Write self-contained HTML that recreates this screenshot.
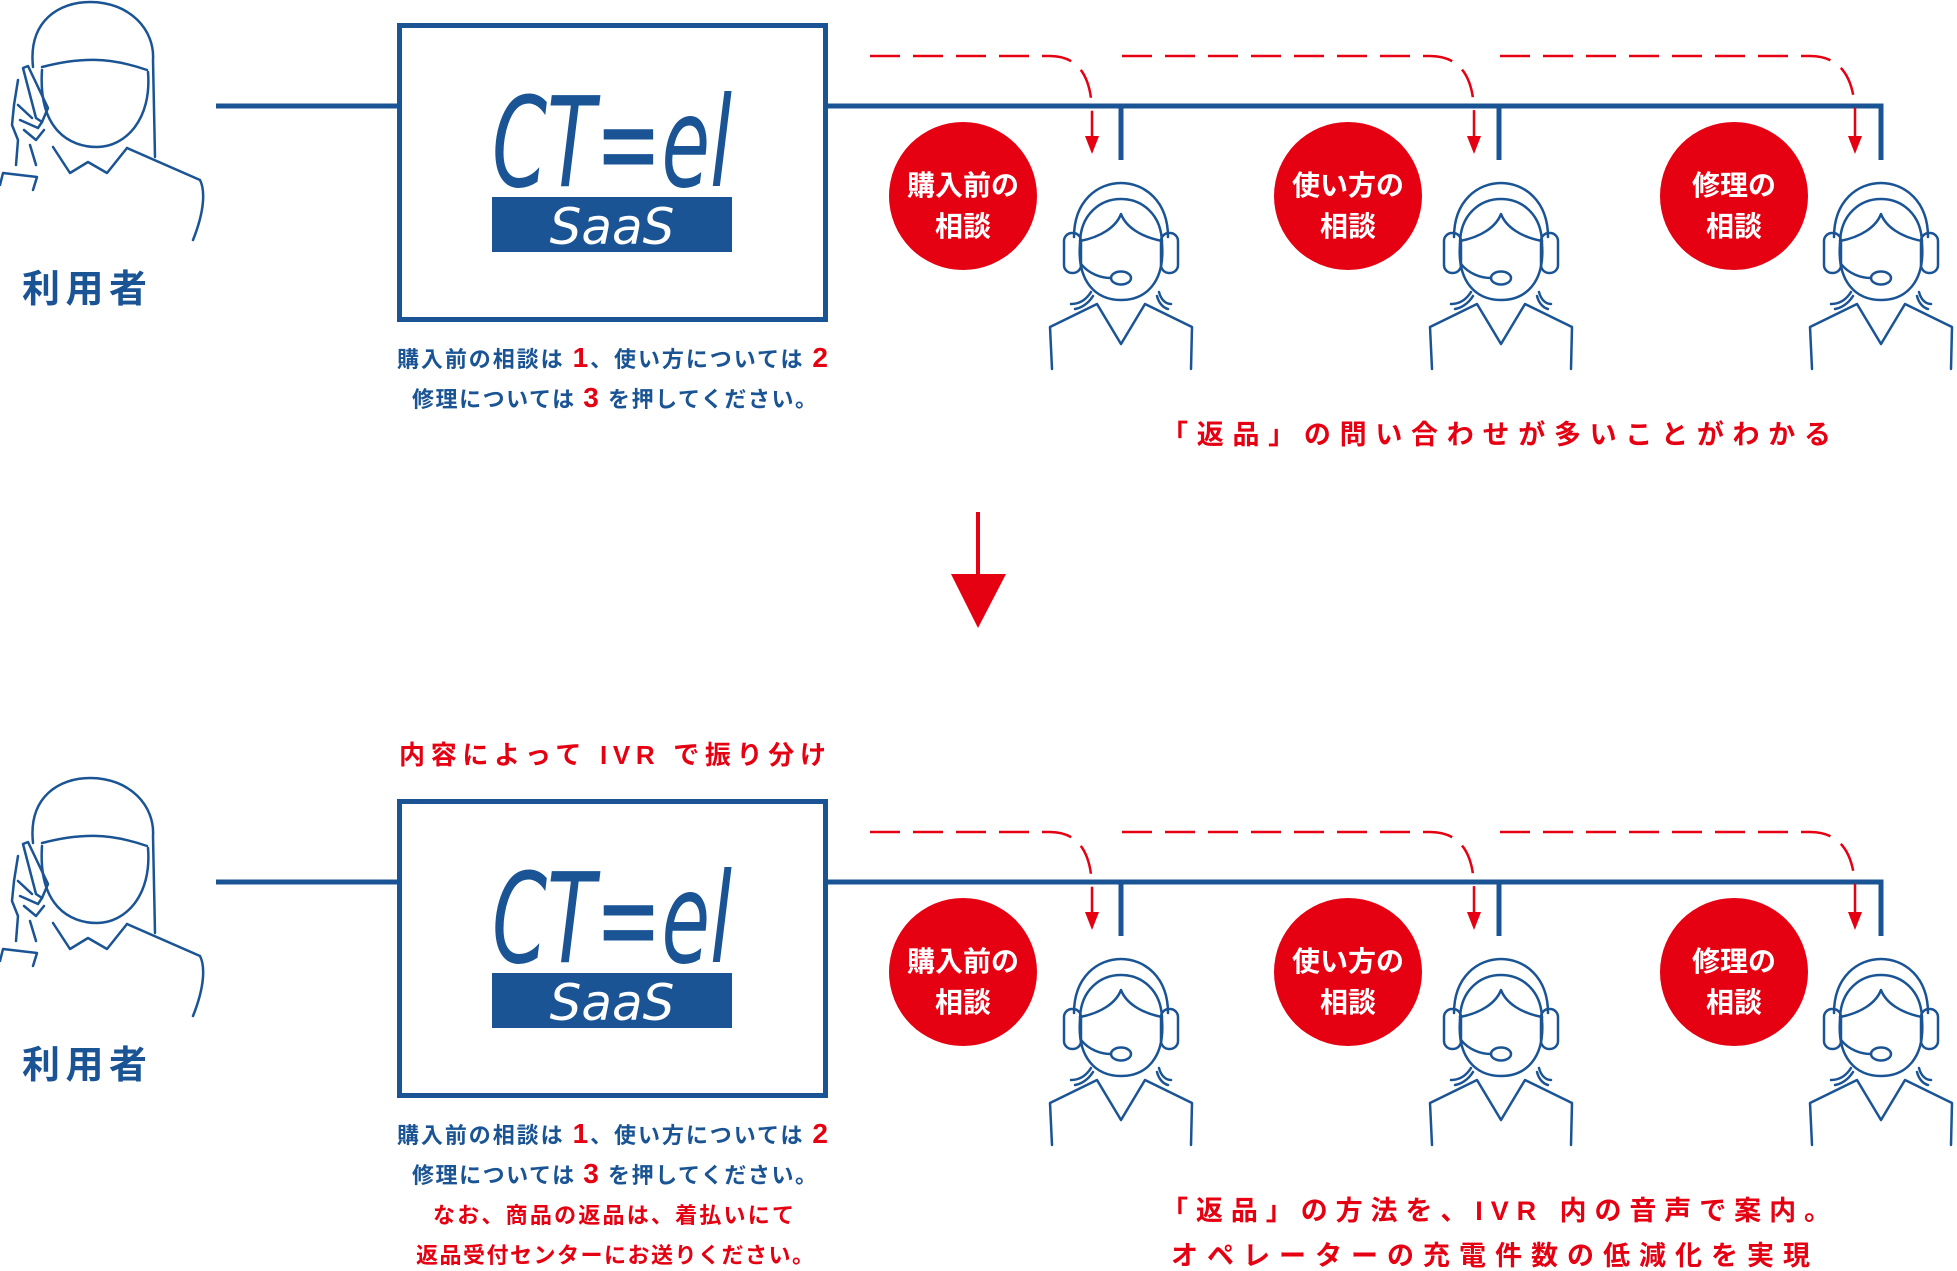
<!DOCTYPE html>
<html><head><meta charset="utf-8"><style>
html,body{margin:0;padding:0;background:#fff;}
svg{display:block;}
.jp{font-family:"Liberation Sans","Noto Sans CJK JP",sans-serif;font-weight:700;}
.lg{font-family:"DejaVu Sans ExtraLight","DejaVu Sans","Liberation Sans",sans-serif;font-weight:200;}
</style></head><body>
<svg width="1957" height="1271" viewBox="0 0 1957 1271" xmlns="http://www.w3.org/2000/svg">
<defs>
<g id="op" fill="none" stroke="#1a5494" stroke-width="2.5" stroke-linecap="round" stroke-linejoin="round">
  <path d="M-47,55 C-47,-17 47,-17 47,55"/>
  <path d="M-41,62 C-41,2 41,2 41,62"/>
  <path d="M-41,62 C-44,100 -25,118 0,118 C25,118 44,100 41,62"/>
  <path d="M-41,59 C-20,55 -5,45 0,32 C5,45 20,55 41,59"/>
  <rect x="-57" y="51" width="17" height="40" rx="8"/>
  <rect x="40" y="51" width="17" height="40" rx="8"/>
  <path d="M-40,82 C-32,92 -20,96 -10,96"/>
  <ellipse cx="0" cy="96" rx="10" ry="6.5"/>
  <path d="M-30,110 C-35,118 -42,122 -50,122 M-28,114 C-33,122 -40,126 -46,127 M38,110 C40,118 45,122 50,122 M36,114 C38,122 43,126 47,127"/>
  <path d="M-69,187 L-71,145 L-24,122 L0,162 L24,122 L71,145 L70,187"/>
</g>
<g id="user" fill="none" stroke="#1a5494" stroke-width="2.5" stroke-linecap="round" stroke-linejoin="round">
  <path d="M33,67 C28,20 60,2 90,2 C130,2 155,30 153,60 L155,157"/>
  <path d="M42,67 C80,57 110,57 147,70"/>
  <path d="M42,70 C38,130 70,147 97,147 C125,147 152,120 148,72"/>
  <path d="M53,147 L70,173 L88,162 L107,173 L127,148"/>
  <path d="M127,148 L200,180 C205,190 205,210 193,240"/>
  <path d="M23,68 L28,66 L48,108 L42,122 L36,118 Z"/>
  <path d="M18,80 L14,105 L12,125 L18,140 L16,165 M18,105 L32,118 M20,120 L38,128 L42,122 M24,130 L36,140 L44,130 M30,145 L36,165"/>
  <path d="M0,185 L3,173 L37,177 L33,190"/>
</g>
<g id="common">
<use href="#user" x="0" y="0"/>
<line x1="216" y1="106" x2="397" y2="106" stroke="#1a5494" stroke-width="5"/>
<rect x="399.5" y="25.5" width="426" height="294" fill="none" stroke="#1a5494" stroke-width="5"/>
<rect x="492" y="197" width="240" height="55" fill="#1a5494"/>
<path d="M827,106 H1881 V160 M1121,106 V160 M1499,106 V160" fill="none" stroke="#1a5494" stroke-width="5"/>
<g fill="none" stroke="#e50012" stroke-width="2.5" stroke-dasharray="30,13">
  <path d="M870,56 H1050 Q1090,56 1092,110 V140"/>
  <path d="M1122,56 H1430 Q1472,56 1474,110 V140"/>
  <path d="M1500,56 H1810 Q1852,56 1855,110 V140"/>
</g>
<g fill="#e50012">
  <path d="M1085,136 L1099,136 L1092,154 Z"/>
  <path d="M1467,136 L1481,136 L1474,154 Z"/>
  <path d="M1848,136 L1862,136 L1855,154 Z"/>
</g>
<circle cx="963" cy="196" r="74" fill="#e50012"/>
<circle cx="1348" cy="196" r="74" fill="#e50012"/>
<circle cx="1734" cy="196" r="74" fill="#e50012"/>
<use href="#op" x="1121" y="182"/>
<use href="#op" x="1501" y="182"/>
<use href="#op" x="1881" y="182"/>
</g>
</defs>

<!-- ===== TOP ===== -->
<use href="#common"/>
<g>
<text x="492" y="186" class="lg" font-size="125" textLength="240" lengthAdjust="spacingAndGlyphs" fill="#1a5494" font-style="italic">CT=el</text>
<text x="612" y="244" text-anchor="middle" class="lg" font-size="50" fill="#fff" font-style="italic">SaaS</text>
<g class="jp" font-size="28" fill="#fff" text-anchor="middle">
<text x="963" y="195">購入前の</text><text x="963" y="236">相談</text>
<text x="1348" y="195">使い方の</text><text x="1348" y="236">相談</text>
<text x="1734" y="195">修理の</text><text x="1734" y="236">相談</text>
</g>
<text x="22" y="302" class="jp" font-size="38" fill="#1a5494" textLength="125" lengthAdjust="spacing">利用者</text>
<text x="397" y="367" class="jp" font-size="22" fill="#1a5494" textLength="431" lengthAdjust="spacing">購入前の相談は <tspan fill="#e50012" font-size="28">1</tspan>、使い方については <tspan fill="#e50012" font-size="28">2</tspan></text>
<text x="412" y="407" class="jp" font-size="22" fill="#1a5494" textLength="405" lengthAdjust="spacing">修理については <tspan fill="#e50012" font-size="28">3</tspan> を押してください。</text>
<text x="1161" y="444" class="jp" font-size="27" fill="#e50012" textLength="670" lengthAdjust="spacing">「返品」の問い合わせが多いことがわかる</text>
</g>

<!-- arrow -->
<line x1="978" y1="512" x2="978" y2="585" stroke="#e50012" stroke-width="4"/>
<path d="M951,574 L1006,574 L978,628 Z" fill="#e50012"/>

<!-- ===== BOTTOM ===== -->
<text x="399" y="764" class="jp" font-size="26" fill="#e50012" textLength="427" lengthAdjust="spacing">内容によって IVR で振り分け</text>
<g transform="translate(0,776)">
<use href="#common"/>
<text x="492" y="186" class="lg" font-size="125" textLength="240" lengthAdjust="spacingAndGlyphs" fill="#1a5494" font-style="italic">CT=el</text>
<text x="612" y="244" text-anchor="middle" class="lg" font-size="50" fill="#fff" font-style="italic">SaaS</text>
<g class="jp" font-size="28" fill="#fff" text-anchor="middle">
<text x="963" y="195">購入前の</text><text x="963" y="236">相談</text>
<text x="1348" y="195">使い方の</text><text x="1348" y="236">相談</text>
<text x="1734" y="195">修理の</text><text x="1734" y="236">相談</text>
</g>
<text x="22" y="302" class="jp" font-size="38" fill="#1a5494" textLength="125" lengthAdjust="spacing">利用者</text>
<text x="397" y="367" class="jp" font-size="22" fill="#1a5494" textLength="431" lengthAdjust="spacing">購入前の相談は <tspan fill="#e50012" font-size="28">1</tspan>、使い方については <tspan fill="#e50012" font-size="28">2</tspan></text>
<text x="412" y="407" class="jp" font-size="22" fill="#1a5494" textLength="405" lengthAdjust="spacing">修理については <tspan fill="#e50012" font-size="28">3</tspan> を押してください。</text>
<text x="433" y="447" class="jp" font-size="22" fill="#e50012" textLength="361" lengthAdjust="spacing">なお、商品の返品は、着払いにて</text>
<text x="416" y="487" class="jp" font-size="22" fill="#e50012" textLength="398" lengthAdjust="spacing">返品受付センターにお送りください。</text>
<text x="1161" y="444" class="jp" font-size="27" fill="#e50012" textLength="670" lengthAdjust="spacing">「返品」の方法を、IVR 内の音声で案内。</text>
<text x="1171" y="489" class="jp" font-size="27" fill="#e50012" textLength="639" lengthAdjust="spacing">オペレーターの充電件数の低減化を実現</text>
</g>
</svg>
</body></html>
